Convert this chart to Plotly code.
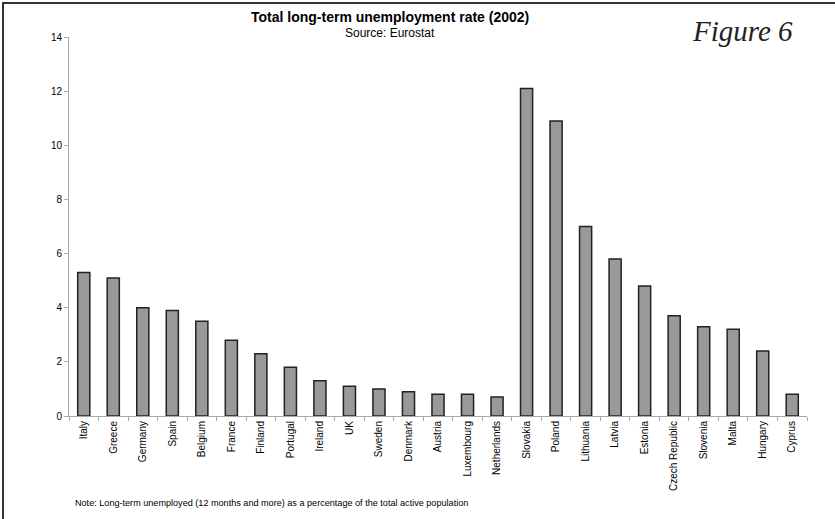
import plotly.graph_objects as go

countries = [
    "Italy", "Greece", "Germany", "Spain", "Belgium", "France", "Finland",
    "Portugal", "Ireland", "UK", "Sweden", "Denmark", "Austria", "Luxembourg",
    "Netherlands", "Slovakia", "Poland", "Lithuania", "Latvia", "Estonia",
    "Czech Republic", "Slovenia", "Malta", "Hungary", "Cyprus",
]
rates = [
    5.3, 5.1, 4.0, 3.9, 3.5, 2.8, 2.3, 1.8, 1.3, 1.1, 1.0, 0.9, 0.8, 0.8,
    0.7, 12.1, 10.9, 7.0, 5.8, 4.8, 3.7, 3.3, 3.2, 2.4, 0.8,
]
y_ticks = [0, 2, 4, 6, 8, 10, 12, 14]

W, H = 835, 519
L, R, T, B = 69, 28, 37, 103
PW, PH = W - L - R, H - T - B


def px(x):
    return (x - L) / PW


def py(y):
    return (H - B - y) / PH


fig = go.Figure(
    go.Bar(
        x=countries,
        y=rates,
        marker=dict(color="#999999", line=dict(color="#222222", width=1.5)),
        hoverinfo="x+y",
    )
)

font = "Arial, Liberation Sans, sans-serif"

fig.update_layout(
    width=W,
    height=H,
    margin=dict(l=L, r=R, t=T, b=B),
    paper_bgcolor="white",
    plot_bgcolor="white",
    bargap=0.59,
    showlegend=False,
    font=dict(family=font, size=10, color="black"),
    xaxis=dict(
        type="category",
        tickangle=-90,
        showline=True,
        linecolor="#aaaaaa",
        linewidth=1,
        ticks="outside",
        tickson="boundaries",
        ticklen=4,
        tickcolor="#aaaaaa",
        showgrid=False,
        tickfont=dict(family=font, size=10, color="black"),
    ),
    yaxis=dict(
        range=[0, 14],
        tickvals=y_ticks,
        showline=True,
        linecolor="#aaaaaa",
        linewidth=1,
        ticks="outside",
        ticklen=4,
        tickcolor="#aaaaaa",
        showgrid=False,
        zeroline=False,
        tickfont=dict(family=font, size=10, color="black"),
    ),
    annotations=[
        dict(
            text="<b>Total long-term unemployment rate (2002)</b>",
            xref="paper", yref="paper", x=px(390), y=py(17),
            xanchor="center", yanchor="middle", showarrow=False,
            font=dict(family=font, size=14, color="black"),
        ),
        dict(
            text="Source: Eurostat",
            xref="paper", yref="paper", x=px(390), y=py(33),
            xanchor="center", yanchor="middle", showarrow=False,
            font=dict(family=font, size=12, color="black"),
        ),
        dict(
            text="<i>Figure 6</i>",
            xref="paper", yref="paper", x=px(742), y=py(31),
            xanchor="center", yanchor="middle", showarrow=False,
            font=dict(family="Liberation Serif, serif", size=29, color="#222222"),
        ),
        dict(
            text="Note: Long-term unemployed (12 months and more) as a percentage of the total active population",
            xref="paper", yref="paper", x=px(73), y=py(503),
            xanchor="left", yanchor="middle", showarrow=False,
            font=dict(family=font, size=9.1, color="black"),
        ),
    ],
    shapes=[
        dict(
            type="path", xref="paper", yref="paper",
            path=f"M {px(3)} {py(H)} L {px(3)} {py(3)} L {px(W)} {py(3)}",
            line=dict(color="#333333", width=2),
        ),
    ],
)

fig.write_html("out.html")
